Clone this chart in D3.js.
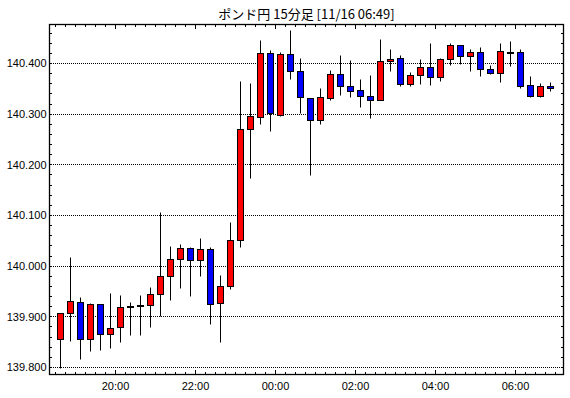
<!DOCTYPE html>
<html><head><meta charset="utf-8">
<script src="https://cdn.jsdelivr.net/npm/d3@7/dist/d3.min.js"></script>
<style>
html,body{margin:0;padding:0;background:#fff;}
svg{display:block;}
</style></head>
<body>
<script>
const title = "ポンド円 15分足 [11/16 06:49]";
const times = ["18:30","18:45","19:00","19:15","19:30","19:45","20:00","20:15","20:30","20:45",
"21:00","21:15","21:30","21:45","22:00","22:15","22:30","22:45","23:00","23:15",
"23:30","23:45","00:00","00:15","00:30","00:45","01:00","01:15","01:30","01:45",
"02:00","02:15","02:30","02:45","03:00","03:15","03:30","03:45","04:00","04:15",
"04:30","04:45","05:00","05:15","05:30","05:45","06:00","06:15","06:30","06:45"];
const open = [139.856,139.906,139.928,139.855,139.924,139.865,139.878,139.918,139.920,139.922,
139.945,139.979,140.013,140.034,140.011,140.032,139.926,139.959,140.050,140.269,
140.293,140.420,140.297,140.418,140.384,140.330,140.287,140.330,140.378,140.354,
140.346,140.334,140.326,140.403,140.409,140.358,140.376,140.393,140.372,140.407,
140.435,140.413,140.421,140.388,140.380,140.422,140.421,140.356,140.334,140.354];
const high = [139.907,140.018,139.939,139.926,139.924,139.946,139.942,139.928,139.942,139.958,
140.105,140.038,140.042,140.036,140.054,140.036,139.981,140.087,140.365,140.361,
140.445,140.425,140.421,140.465,140.409,140.330,140.350,140.386,140.415,140.405,
140.368,140.376,140.448,140.427,140.415,140.382,140.407,140.439,140.409,140.439,
140.435,140.427,140.431,140.397,140.439,140.443,140.427,140.374,140.360,140.362];
const low = [139.799,139.852,139.816,139.832,139.834,139.838,139.850,139.864,139.864,139.878,
139.900,139.932,139.955,139.940,139.980,139.884,139.849,139.953,140.037,140.174,
140.279,140.266,140.295,140.368,140.301,140.178,140.279,140.326,140.336,140.332,
140.313,140.291,140.326,140.384,140.354,140.354,140.358,140.356,140.364,140.397,
140.399,140.384,140.374,140.378,140.362,140.395,140.350,140.332,140.332,140.344];
const close = [139.906,139.930,139.855,139.924,139.865,139.876,139.918,139.920,139.922,139.945,
139.979,140.013,140.034,140.011,140.032,139.924,139.959,140.050,140.269,140.295,
140.420,140.301,140.418,140.384,140.333,140.287,140.333,140.378,140.354,140.344,
140.334,140.326,140.403,140.407,140.358,140.376,140.393,140.372,140.407,140.435,
140.413,140.421,140.388,140.380,140.424,140.422,140.354,140.334,140.354,140.350];
const yTicks = [139.8,139.9,140.0,140.1,140.2,140.3,140.4];
const xLabels = ["20:00","22:00","00:00","02:00","04:00","06:00"];

const W = 570, H = 398;
const frame = {left:49, right:564, top:24, bottom:375};

// parse times into consecutive Dates (crossing midnight)
const base = new Date(2021,10,15,0,0);
function toDate(s, prev){
  const [h,m] = s.split(":").map(Number);
  let d = new Date(base.getFullYear(), base.getMonth(), base.getDate(), h, m);
  while(prev && d < prev) d = new Date(d.getTime() + 86400000);
  return d;
}
const dates = [];
times.forEach((s,i)=>dates.push(toDate(s, dates[i-1])));
const data = times.map((t,i)=>({t:dates[i], o:open[i], h:high[i], l:low[i], c:close[i]}));

const step = 15*60000;
const x = d3.scaleTime().domain([dates[0], dates[dates.length-1]]).range([55.5, 545.5]);
const y = d3.scaleLinear().domain([yTicks[0], yTicks[yTicks.length-1]]).range([367.5, 63.5]);

const svg = d3.select("body").append("svg").attr("width",W).attr("height",H);

// title
svg.append("text").attr("x",(frame.left+frame.right)/2).attr("y",19)
  .attr("text-anchor","middle").attr("font-family","'Noto Sans CJK JP', sans-serif")
  .attr("font-size","13px").attr("fill","#000").text(title);

// gridlines
svg.append("g").selectAll("line").data(yTicks).join("line")
  .attr("x1",frame.left).attr("x2",frame.right)
  .attr("y1",d=>Math.round(y(d)-0.5)+0.5).attr("y2",d=>Math.round(y(d)-0.5)+0.5)
  .attr("stroke","#000").attr("stroke-width",1).attr("stroke-dasharray","1,1");

// y labels
svg.append("g").selectAll("text").data(yTicks).join("text")
  .attr("x",46.5).attr("y",d=>y(d)).attr("dy","0.36em").attr("text-anchor","end")
  .attr("font-family","'Liberation Sans', Arial, sans-serif").attr("font-size","11px")
  .attr("fill","#000").text(d=>d3.format(".3f")(d));

// x ticks (every 15 min) top and bottom
const tStart = new Date(dates[0].getTime());
const tEnd = x.invert(frame.right);
const tickTimes = d3.timeMinute.every(15).range(tStart, tEnd);
const isMajor = d => d.getMinutes()===0 && d.getHours()%2===0;
const gx = svg.append("g");
tickTimes.forEach(d=>{
  const px = Math.round(x(d)-0.5)+0.5;
  const len = isMajor(d)?5:3;
  gx.append("line").attr("x1",px).attr("x2",px).attr("y1",frame.bottom).attr("y2",frame.bottom-len)
    .attr("stroke","#000");
  gx.append("line").attr("x1",px).attr("x2",px).attr("y1",frame.top).attr("y2",frame.top+len)
    .attr("stroke","#000");
});
// x labels
const labelTimes = tickTimes.filter(isMajor);
svg.append("g").selectAll("text").data(labelTimes).join("text")
  .attr("x",d=>x(d)).attr("y",390).attr("text-anchor","middle")
  .attr("font-family","'Liberation Sans', Arial, sans-serif").attr("font-size","11px")
  .attr("fill","#000").text((d,i)=>xLabels[i]);

// y minor ticks left/right every 0.02
const yMinor = d3.range(0, 34).map(k => +(yTicks[0] + k*0.02).toFixed(2)).filter(v=>y(v)>frame.top);
const gy = svg.append("g");
yMinor.forEach(v=>{
  const py = Math.round(y(v)-0.5)+0.5;
  gy.append("line").attr("x1",frame.left).attr("x2",frame.left+3).attr("y1",py).attr("y2",py).attr("stroke","#000");
  gy.append("line").attr("x1",frame.right).attr("x2",frame.right-3).attr("y1",py).attr("y2",py).attr("stroke","#000");
});

// frame
svg.append("rect").attr("x",frame.left+0.5).attr("y",frame.top+0.5)
  .attr("width",frame.right-frame.left-1).attr("height",frame.bottom-frame.top-1)
  .attr("fill","none").attr("stroke","#000").attr("stroke-width",1.3);

// candles
const half = step/2;
const g = svg.append("g");
const cx = d => Math.round(x(new Date(d.t.getTime()+half))-0.5)+0.5;
const snap = v => Math.round(v-0.5)+0.5;
g.selectAll("line.wick").data(data).join("line").attr("class","wick")
  .attr("x1",cx).attr("x2",cx).attr("y1",d=>snap(y(d.h))).attr("y2",d=>snap(y(d.l)))
  .attr("stroke","#000").attr("stroke-width",1);
g.selectAll("rect.body").data(data).join("rect").attr("class","body")
  .attr("x",d=>cx(d)-3).attr("width",6)
  .attr("y",d=>snap(y(Math.max(d.o,d.c))))
  .attr("height",d=>Math.max(1, snap(y(Math.min(d.o,d.c))) - snap(y(Math.max(d.o,d.c)))))
  .attr("fill",d=>d.c>=d.o?"#ff0000":"#0000ff")
  .attr("stroke","#000").attr("stroke-width",1);
</script>
</body></html>
